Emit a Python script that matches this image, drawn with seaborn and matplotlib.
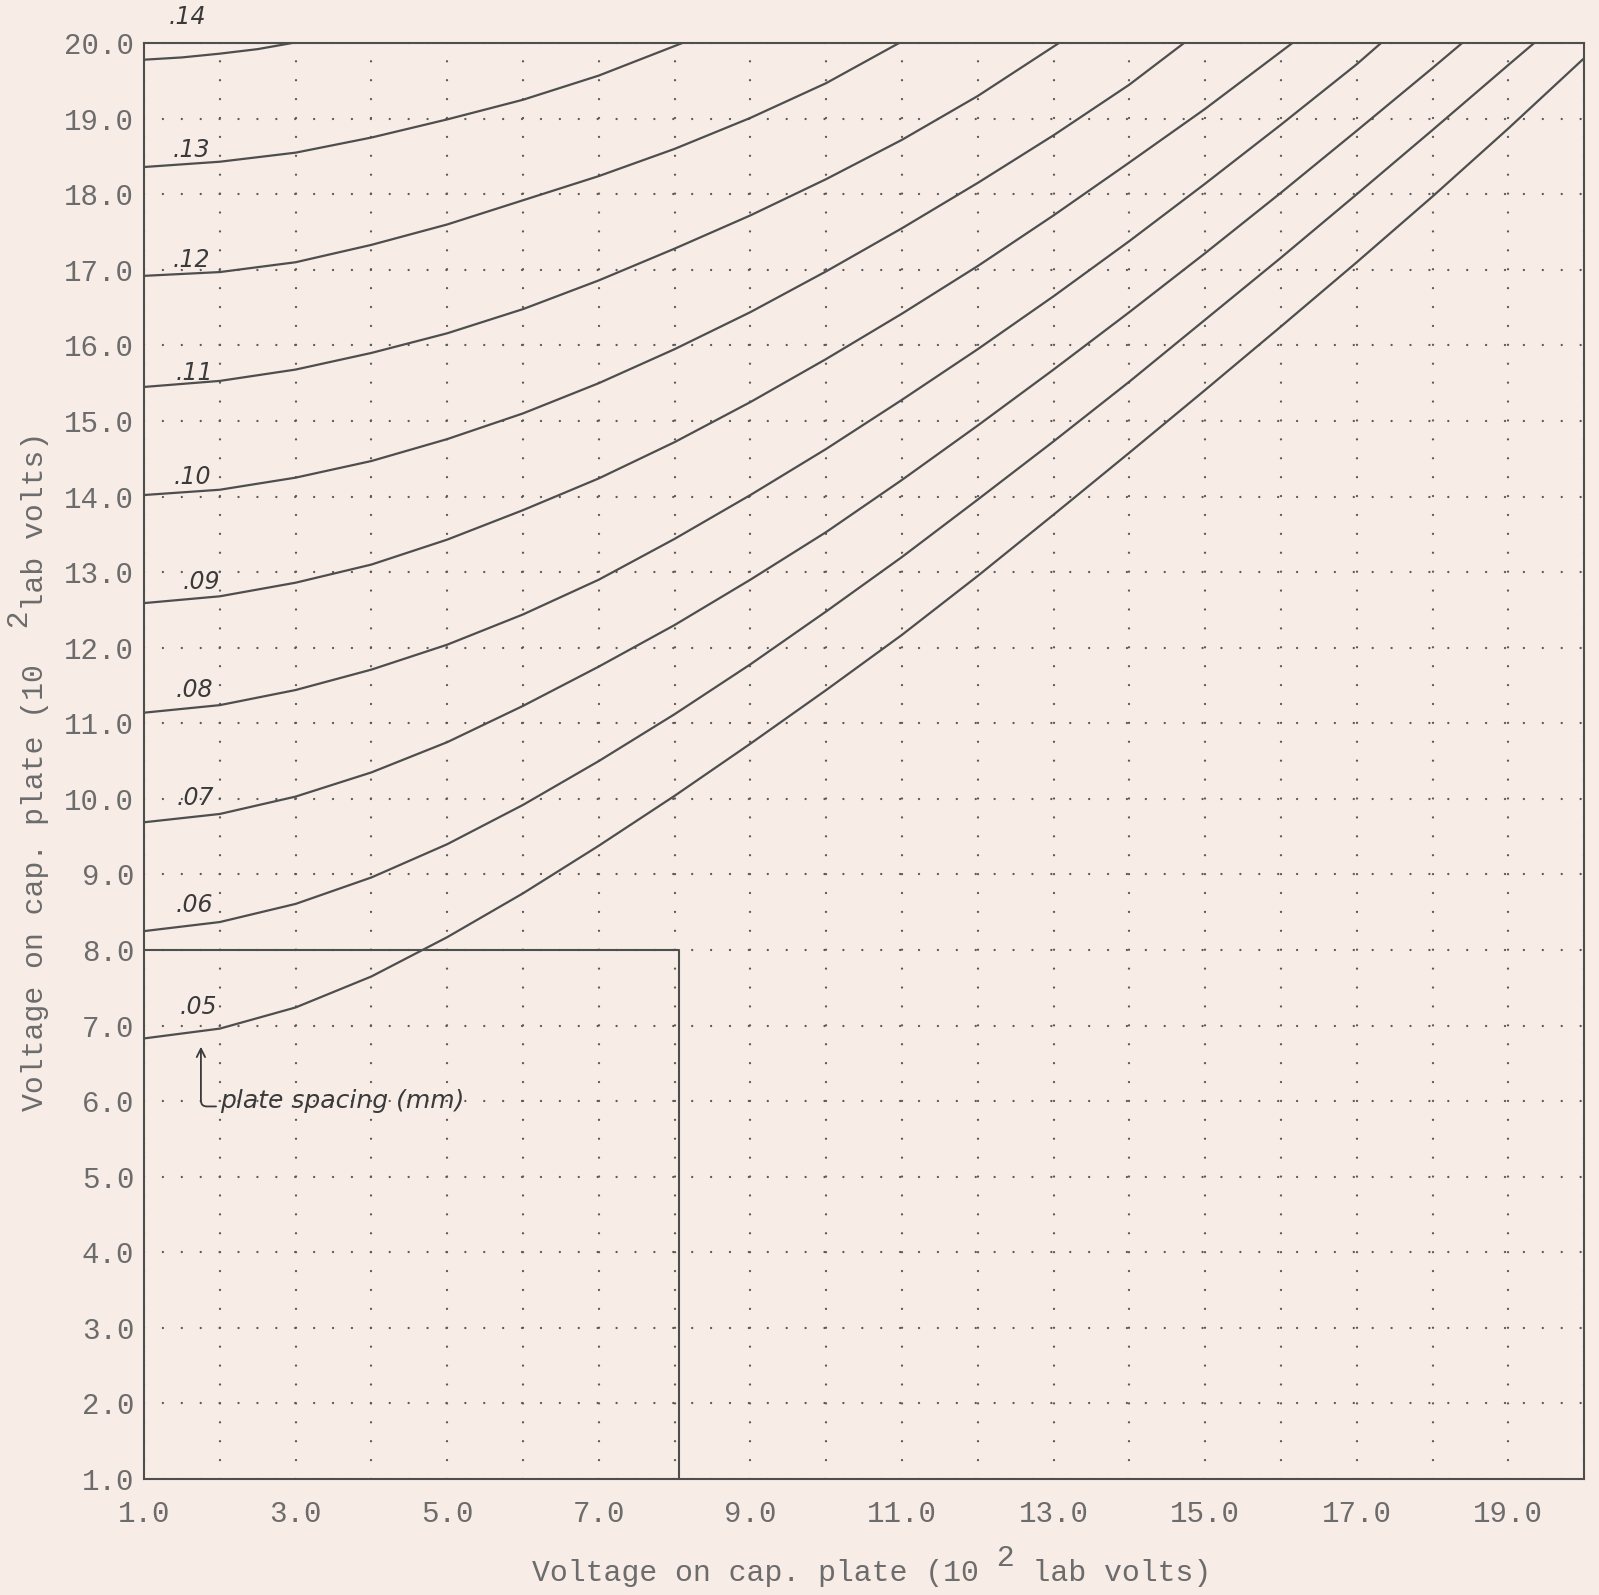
import matplotlib
matplotlib.use("Agg")
import matplotlib.pyplot as plt
import pandas as pd
import seaborn as sns
from matplotlib.ticker import FormatStrFormatter, FixedLocator

# ---------------- data ----------------
spacings = [".05", ".06", ".07", ".08", ".09", ".10", ".11", ".12", ".13", ".14"]

x05 = [1, 2, 3, 4, 5, 6, 7, 8, 9, 10, 11, 12, 13, 14, 15, 16, 17, 18, 19, 20]
y05 = [6.83, 6.96, 7.24, 7.65, 8.17, 8.75, 9.38, 10.04, 10.73, 11.44, 12.17, 12.95, 13.76, 14.58, 15.41, 16.25, 17.10, 17.97, 18.87, 19.80]

x06 = [1, 2, 3, 4, 5, 6, 7, 8, 9, 10, 11, 12, 13, 14, 15, 16, 17, 18, 19, 19.34]
y06 = [8.25, 8.37, 8.61, 8.96, 9.40, 9.92, 10.50, 11.12, 11.78, 12.48, 13.20, 13.96, 14.73, 15.52, 16.34, 17.16, 18.00, 18.85, 19.71, 20.0]

x07 = [1, 2, 3, 4, 5, 6, 7, 8, 9, 10, 11, 12, 13, 14, 15, 16, 17, 18, 18.39]
y07 = [9.69, 9.80, 10.03, 10.35, 10.75, 11.23, 11.75, 12.30, 12.90, 13.53, 14.22, 14.94, 15.68, 16.44, 17.22, 18.02, 18.84, 19.67, 20.0]

x08 = [1, 2, 3, 4, 5, 6, 7, 8, 9, 10, 11, 12, 13, 14, 15, 16, 17, 17.32]
y08 = [11.14, 11.24, 11.44, 11.71, 12.04, 12.44, 12.90, 13.44, 14.02, 14.63, 15.28, 15.95, 16.65, 17.38, 18.14, 18.92, 19.72, 20.0]

x09 = [1, 2, 3, 4, 5, 6, 7, 8, 9, 10, 11, 12, 13, 14, 15, 16.15]
y09 = [12.59, 12.68, 12.86, 13.10, 13.43, 13.82, 14.24, 14.72, 15.25, 15.82, 16.42, 17.05, 17.72, 18.42, 19.13, 20.0]

x10 = [1, 2, 3, 4, 5, 6, 7, 8, 9, 10, 11, 12, 13, 14, 14.72]
y10 = [14.02, 14.09, 14.25, 14.47, 14.76, 15.10, 15.50, 15.95, 16.44, 16.98, 17.55, 18.15, 18.78, 19.45, 20.0]

x11 = [1, 2, 3, 4, 5, 6, 7, 8, 9, 10, 11, 12, 13.07]
y11 = [15.45, 15.53, 15.68, 15.90, 16.16, 16.48, 16.86, 17.28, 17.72, 18.20, 18.72, 19.30, 20.0]

x12 = [1, 2, 3, 4, 5, 6, 7, 8, 9, 10, 10.96]
y12 = [16.92, 16.97, 17.10, 17.33, 17.60, 17.92, 18.24, 18.60, 19.01, 19.47, 20.0]

x13 = [1, 2, 3, 4, 5, 6, 7, 8.1]
y13 = [18.36, 18.43, 18.55, 18.75, 18.99, 19.25, 19.57, 20.0]

x14 = [1, 1.5, 2, 2.5, 2.95]
y14 = [19.78, 19.81, 19.86, 19.92, 20.0]

curve_x = [x05, x06, x07, x08, x09, x10, x11, x12, x13, x14]
curve_y = [y05, y06, y07, y08, y09, y10, y11, y12, y13, y14]

# handwritten label anchor points (data coords)
label_x = [1.71, 1.66, 1.68, 1.66, 1.75, 1.64, 1.66, 1.62, 1.62, 1.57]
label_y = [7.25, 8.59, 10.01, 11.44, 12.87, 14.26, 15.63, 17.13, 18.58, 20.34]

# rectangle drawn on the chart
box_x = [1.0, 8.06, 8.06]
box_y = [8.0, 8.0, 1.0]

xtick_major = [1, 3, 5, 7, 9, 11, 13, 15, 17, 19]
xtick_minor = [2, 4, 6, 8, 10, 12, 14, 16, 18, 20]
ytick_major = list(range(1, 21))

# axis titles: the raised "2" (10^2) sits on a first line above the gap
x_title = " " * 26 + "2\nVoltage on cap. plate (10   lab volts)"
y_title = " " * 27 + "2\nVoltage on cap. plate (10   lab volts)"
note_text = "plate spacing (mm)"

# ---------------- style ----------------
BG = "#f7ece6"
INK = "#4e4e4e"
TXT = "#6c6c6c"
PEN = "#3a3a3a"

sns.set_style("white")
plt.rcParams["font.family"] = ["Liberation Mono", "DejaVu Sans Mono"]
plt.rcParams["lines.scale_dashes"] = False

fig = plt.figure(figsize=(15.99, 15.95), dpi=100, facecolor=BG)
ax = fig.add_axes([0.0901, 0.0727, 0.9006, 0.9003])
ax.set_facecolor(BG)

rows = []
for s, xs, ys in zip(spacings, curve_x, curve_y):
    for xv, yv in zip(xs, ys):
        rows.append({"x": xv, "y": yv, "spacing": s})
df = pd.DataFrame(rows)

sns.lineplot(data=df, x="x", y="y", hue="spacing", estimator=None,
             palette={s: INK for s in spacings}, linewidth=1.6,
             legend=False, ax=ax, sort=True)

ax.plot(box_x, box_y, color=INK, linewidth=1.5)

ax.set_xlim(1, 20)
ax.set_ylim(1, 20)
ax.xaxis.set_major_locator(FixedLocator(xtick_major))
ax.xaxis.set_minor_locator(FixedLocator(xtick_minor))
ax.yaxis.set_major_locator(FixedLocator(ytick_major))
ax.xaxis.set_major_formatter(FormatStrFormatter("%.1f"))
ax.yaxis.set_major_formatter(FormatStrFormatter("%.1f"))

ax.grid(True, which="both", color="#5a5a5a", linestyle=(0, (0.01, 13.6)),
        linewidth=1.7, dash_capstyle="round")
ax.set_axisbelow(True)

ax.tick_params(axis="both", which="both", length=0, labelsize=21, labelcolor=TXT)
ax.tick_params(axis="x", pad=15)
ax.tick_params(axis="y", pad=7)

for sp in ax.spines.values():
    sp.set_color(INK)
    sp.set_linewidth(1.5)
    sp.set_visible(True)

ax.set_xlabel(x_title, fontsize=21.5, color=TXT, multialignment="left",
              linespacing=0.4)
ax.xaxis.set_label_coords(0.505, -0.0455)
ax.set_ylabel(y_title, fontsize=21.5, color=TXT, multialignment="left",
              linespacing=0.4)
ax.yaxis.set_label_coords(-0.066, 0.493)

# handwritten annotations
for s, lx, ly in zip(spacings, label_x, label_y):
    ax.text(lx, ly, s, ha="center", va="center", fontsize=17,
            family="DejaVu Sans", style="italic", color=PEN, clip_on=False)

ax.annotate("", xy=(1.75, 6.72), xytext=(1.95, 5.93),
            arrowprops=dict(arrowstyle="->,head_length=0.6,head_width=0.3",
                            connectionstyle="angle,angleA=0,angleB=90,rad=6",
                            color=PEN, linewidth=1.3, shrinkA=0, shrinkB=0))
ax.text(2.0, 6.0, note_text, ha="left", va="center", fontsize=18,
        family="DejaVu Sans", style="italic", color=PEN)

fig.savefig("out.png", dpi=100, facecolor=BG)
